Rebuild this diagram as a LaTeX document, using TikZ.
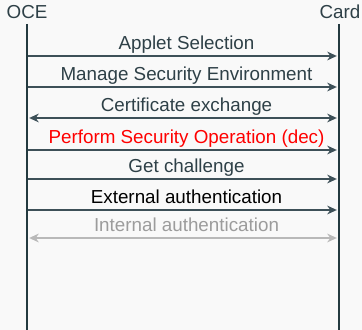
\documentclass[tikz,border=0pt]{standalone}
\usepackage{fontspec}
\setmainfont{Liberation Sans}
\usetikzlibrary{positioning,arrows.meta}
\usepackage{xcolor}

\definecolor{lifeln}{HTML}{243A40}
\definecolor{msgln}{HTML}{3D5058}
\definecolor{msgtxt}{HTML}{2E4047}
\definecolor{greyln}{HTML}{B9B9B9}
\definecolor{greytxt}{HTML}{9C9C9C}
\definecolor{bgpage}{HTML}{F9F9F9}

\tikzset{
  lifeline/.style={line width=1.3pt,draw=lifeln},
  msg/.style={line width=0.6pt,draw=msgln,-{Stealth[length=4.8pt,width=4.4pt]},shorten >=0.6pt},
  msgboth/.style={msg,{Stealth[length=4.8pt,width=4.4pt]}-{Stealth[length=4.8pt,width=4.4pt]},shorten <=0.6pt},
  msglabel/.style={anchor=base,inner sep=0pt,font=\fontsize{9.4}{11}\selectfont},
  actor/.style={anchor=base,inner sep=0pt,font=\fontsize{9.4}{11}\selectfont,text=msgtxt}
}

\begin{document}
\begin{tikzpicture}[x=0.5pt,y=-0.5pt]
\fill[bgpage] (0,0) rectangle (362,330);
\useasboundingbox (0,0) rectangle (362,330);

% the two parties and their lifelines
\node (oce) at (27,19) [actor] {OCE};
\node (card) at (340,19) [actor] {Card};
\coordinate (oceTop) at (27,24);
\coordinate (oceEnd) at (27,330);
\coordinate (cardTop) at (339,24);
\coordinate (cardEnd) at (339,330);
\draw[lifeline] (oceTop) -- (oceEnd);
\draw[lifeline] (cardTop) -- (cardEnd);

% message end points
\coordinate (o1) at (28,56);  \coordinate (c1) at (338,56);
\coordinate (o2) at (28,87);  \coordinate (c2) at (338,87);
\coordinate (o3) at (28,118); \coordinate (c3) at (338,118);
\coordinate (o4) at (28,150); \coordinate (c4) at (338,150);
\coordinate (o5) at (28,179); \coordinate (c5) at (338,179);
\coordinate (o6) at (28,210); \coordinate (c6) at (338,210);
\coordinate (o7) at (28,238); \coordinate (c7) at (338,238);

% labels
\node (m1) at (186.5,50)  [msglabel,text=msgtxt] {Applet Selection};
\node (m2) at (186.5,81)  [msglabel,text=msgtxt] {Manage Security Environment};
\node (m3) at (186.5,112) [msglabel,text=msgtxt] {Certificate exchange};
\node (m4) at (186.5,144) [msglabel,text=red] {Perform Security Operation (dec)};
\node (m5) at (186.5,173) [msglabel,text=msgtxt] {Get challenge};
\node (m6) at (186.5,204) [msglabel,text=black] {External authentication};
\node (m7) at (186.5,232) [msglabel,text=greytxt] {Internal authentication};

% messages
\draw[msg] (o1) -- (c1);
\draw[msg] (o2) -- (c2);
\draw[msgboth] (o3) -- (c3);
\draw[msg] (o4) -- (c4);
\draw[msg] (o5) -- (c5);
\draw[msg] (o6) -- (c6);
\draw[msgboth,draw=greyln,fill=greyln] (o7) -- (c7);
\end{tikzpicture}
\end{document}
